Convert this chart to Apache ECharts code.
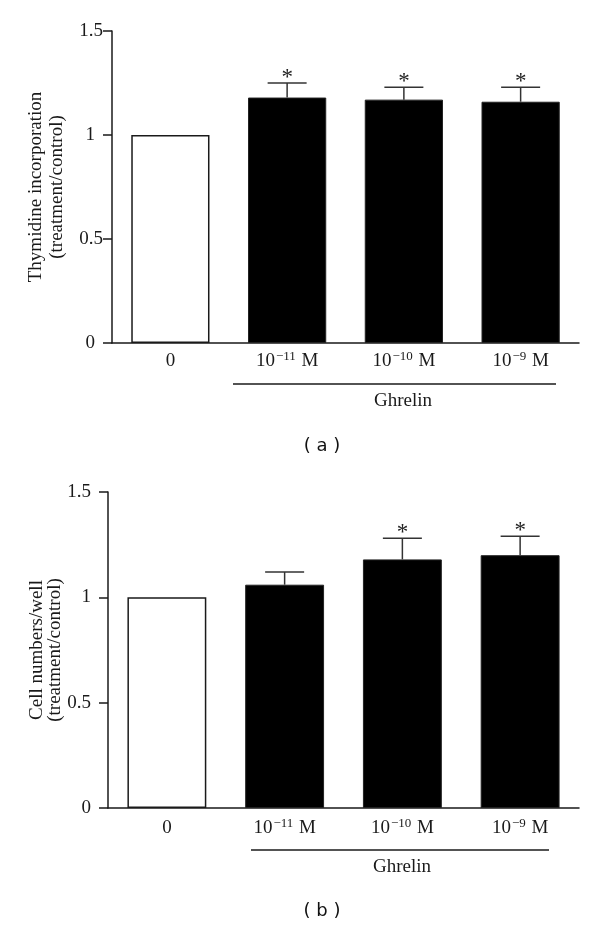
<!DOCTYPE html>
<html>
<head>
<meta charset="utf-8">
<script src="https://cdn.jsdelivr.net/npm/echarts@6/dist/echarts.min.js"></script>
<style>
html,body{margin:0;padding:0;background:#fff;}
#chart{width:600px;height:927px;}
</style>
</head>
<body>
<div id="chart"></div>
<script>
// ---- data ----
const categories = ['0', '10^−11 M', '10^−10 M', '10^−9 M'];
const yTicks = [0, 0.5, 1, 1.5];
const thymidineMean = [1.00, 1.18, 1.17, 1.16];
const thymidineSEM = [0, 0.07, 0.06, 0.07];
const thymidineSig = [false, true, true, true];
const cellMean = [1.00, 1.06, 1.18, 1.20];
const cellSEM = [0, 0.06, 0.10, 0.09];
const cellSig = [false, false, true, true];
const groupLabel = 'Ghrelin';
const panelLabels = ['( a )', '( b )'];
const yTitles = ['Thymidine incorporation\n(treatment/control)', 'Cell numbers/well\n(treatment/control)'];

// ---- chart ----
const SERIF = '"Liberation Serif", "Times New Roman", serif';
const INK = '#1a1a1a';
const chart = echarts.init(document.getElementById('chart'), null, {renderer: 'canvas'});

function catFormatter(v) {
  const m = /^(\d+)\^(\S+)\s(.*)$/.exec(v);
  if (!m) return '{b|' + v + '}';
  return '{b|' + m[1] + '}{s|' + m[2] + '}{b| ' + m[3] + '}';
}

function xAxisFor(gi, margin) {
  return {
    type: 'category', gridIndex: gi, data: categories,
    axisLine: {lineStyle: {color: INK, width: 1.5}},
    axisTick: {show: false},
    axisLabel: {
      margin: margin, interval: 0, formatter: catFormatter,
      rich: {
        b: {fontFamily: SERIF, fontSize: 19, color: INK, lineHeight: 22},
        s: {fontFamily: SERIF, fontSize: 13, color: INK, verticalAlign: 'top', lineHeight: 14, padding: [0, 1, 0, 1]}
      }
    }
  };
}

function yAxisFor(gi, title, lineH, nameGap, margin, intPad) {
  return {
    type: 'value', gridIndex: gi,
    min: yTicks[0], max: yTicks[yTicks.length - 1], interval: yTicks[1] - yTicks[0],
    splitLine: {show: false},
    axisLine: {show: true, lineStyle: {color: INK, width: 1.5}},
    axisTick: {show: true, length: 9, lineStyle: {color: INK, width: 1.5}},
    axisLabel: {
      margin: margin,
      formatter: v => Number.isInteger(v) ? '{i|' + v + '}' : '{d|' + v + '}',
      rich: {
        i: {fontFamily: SERIF, fontSize: 19, color: INK, padding: [0, intPad, 0, 0]},
        d: {fontFamily: SERIF, fontSize: 19, color: INK}
      }
    },
    name: title, nameLocation: 'middle', nameGap: nameGap, nameMoveOverlap: false,
    nameTextStyle: {fontFamily: SERIF, fontSize: 19, color: INK, lineHeight: lineH}
  };
}

function barSeries(gi, means) {
  return {
    type: 'bar', xAxisIndex: gi, yAxisIndex: gi, barWidth: '67%',
    data: means.map((v, i) => ({
      value: v,
      itemStyle: i === 0
        ? {color: '#ffffff', borderColor: INK, borderWidth: 1.5}
        : {color: '#000000', borderColor: '#222', borderWidth: 1}
    })),
    silent: true
  };
}

function errSeries(gi, means, sems, sig) {
  return {
    type: 'custom', xAxisIndex: gi, yAxisIndex: gi, silent: true, z: 5,
    data: means.map((m, i) => [i, m, sems[i], sig[i] ? 1 : 0]),
    renderItem: function (params, api) {
      const i = api.value(0), m = api.value(1), e = api.value(2), s = api.value(3);
      const p0 = api.coord([i, m]);
      const p1 = api.coord([i, m + e]);
      const hw = 19.5;
      const children = [];
      if (e > 0) {
        children.push({type: 'line', shape: {x1: p0[0], y1: p0[1], x2: p1[0], y2: p1[1]}, style: {stroke: '#333', lineWidth: 1.5}});
        children.push({type: 'line', shape: {x1: p1[0] - hw, y1: p1[1], x2: p1[0] + hw, y2: p1[1]}, style: {stroke: '#333', lineWidth: 1.5}});
      }
      if (s) {
        children.push({type: 'text', style: {text: '*', x: p1[0], y: p1[1] - 5.5, align: 'center', verticalAlign: 'middle', font: '23px ' + SERIF, fill: '#222'}});
      }
      return {type: 'group', children: children};
    }
  };
}

const option = {
  animation: false,
  backgroundColor: '#fff',
  grid: [
    {left: 112, top: 31, width: 467, height: 312},
    {left: 108, top: 492, width: 471, height: 316}
  ],
  xAxis: [xAxisFor(0, 7), xAxisFor(1, 9)],
  yAxis: [
    yAxisFor(0, yTitles[0], 21, 44, 9, 8),
    yAxisFor(1, yTitles[1], 18, 44, 17, 0)
  ],
  series: [
    barSeries(0, thymidineMean),
    errSeries(0, thymidineMean, thymidineSEM, thymidineSig),
    barSeries(1, cellMean),
    errSeries(1, cellMean, cellSEM, cellSig)
  ],
  graphic: [
    {type: 'line', shape: {x1: 233, y1: 384, x2: 556, y2: 384}, style: {stroke: INK, lineWidth: 1.3}},
    {type: 'text', x: 403, y: 401, style: {text: groupLabel, font: '19px ' + SERIF, fill: INK, align: 'center', verticalAlign: 'middle'}},
    {type: 'text', x: 322, y: 446, style: {text: panelLabels[0], font: '18px "DejaVu Sans", sans-serif', fill: '#111', align: 'center', verticalAlign: 'middle'}},
    {type: 'line', shape: {x1: 251, y1: 850, x2: 549, y2: 850}, style: {stroke: INK, lineWidth: 1.3}},
    {type: 'text', x: 402, y: 867, style: {text: groupLabel, font: '19px ' + SERIF, fill: INK, align: 'center', verticalAlign: 'middle'}},
    {type: 'text', x: 322, y: 911, style: {text: panelLabels[1], font: '18px "DejaVu Sans", sans-serif', fill: '#111', align: 'center', verticalAlign: 'middle'}}
  ]
};
chart.setOption(option);
</script>
</body>
</html>
